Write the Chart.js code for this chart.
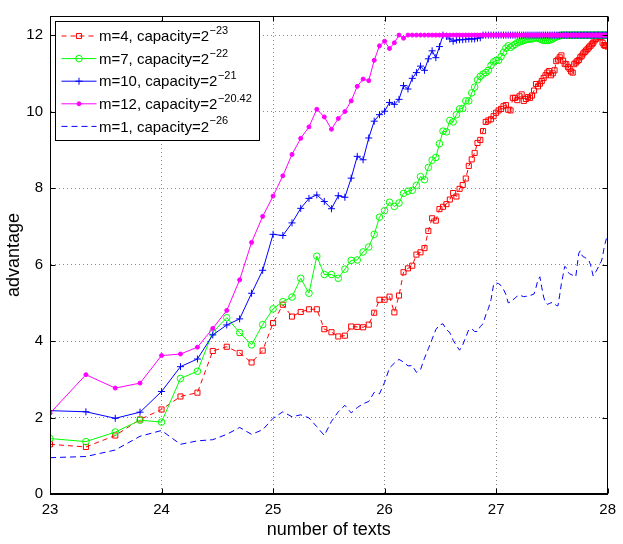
<!DOCTYPE html>
<html>
<head>
<meta charset="utf-8">
<style>
  html, body { margin: 0; padding: 0; background: #fff; }
  #wrap { width: 623px; height: 544px; }
</style>
</head>
<body>
<div id="wrap"><canvas id="grafico" width="623" height="544"></canvas></div>
<script src="https://cdn.jsdelivr.net/npm/chart.js"></script>
<script>
// number of texts, in units of 2^21 (x axis shows log2 of the count)
const numTexts = [
    4, 5, 6, 7, 8, 9, 10, 11, 12, 13,
    14, 15, 16, 17, 18, 19, 20, 21, 22, 23,
    24, 25, 26, 27, 28, 29, 30, 31, 32, 33,
    34, 35, 36, 37, 38, 39, 40, 41, 42, 43,
    44, 45, 46, 47, 48, 49, 50, 51, 52, 53,
    54, 55, 56, 57, 58, 59, 60, 61, 62, 63,
    64, 65, 66, 67, 68, 69, 70, 71, 72, 73,
    74, 75, 76, 77, 78, 79, 80, 81, 82, 83,
    84, 85, 86, 87, 88, 89, 90, 91, 92, 93,
    94, 95, 96, 97, 98, 99, 100, 101, 102, 103,
    104, 105, 106, 107, 108, 109, 110, 111, 112, 113,
    114, 115, 116, 117, 118, 119, 120, 121, 122, 123,
    124, 125, 126, 127, 128
];

// m=4, capacity=2^-23
const advM4 = [
    1.30, 1.23, 1.53, 1.95, 2.21, 2.55, 2.65, 3.74, 3.85, 3.69,
    3.44, 3.75, 4.47, 4.95, 4.64, 4.76, 4.83, 4.83, 4.31, 4.23,
    4.12, 4.14, 4.38, 4.37, 4.36, 4.43, 4.74, 5.08, 5.08, 5.16,
    4.75, 5.19, 5.80, 5.90, 5.97, 6.26, 6.32, 6.43, 6.88, 7.21,
    7.15, 7.45, 7.51, 7.58, 7.70, 7.87, 7.78, 7.98, 8.08, 8.25,
    8.58, 8.75, 8.92, 9.18, 9.26, 9.49, 9.73, 9.77, 9.80, 9.88,
    9.97, 10.03, 10.07, 10.14, 10.17, 10.05, 10.03, 10.36, 10.36, 10.30,
    10.40, 10.45, 10.28, 10.33, 10.38, 10.36, 10.42, 10.55, 10.72, 10.66,
    10.73, 10.80, 10.88, 10.95, 11.02, 11.06, 10.95, 11.00, 11.08, 11.32,
    11.36, 11.42, 11.47, 11.33, 11.25, 11.24, 11.17, 11.12, 11.05, 11.02,
    11.24, 11.28, 11.32, 11.35, 11.42, 11.46, 11.52, 11.56, 11.60, 11.64,
    11.68, 11.72, 11.76, 11.80, 11.86, 11.90, 11.94, 11.96, 11.97, 11.95,
    11.80, 11.74, 11.72, 11.74, 11.70
];

// m=7, capacity=2^-22
const advM7 = [
    1.45, 1.37, 1.62, 1.93, 1.88, 3.02, 3.21, 4.23, 4.61, 4.22,
    3.90, 4.43, 4.84, 5.03, 5.15, 5.64, 5.25, 6.22, 5.74, 5.74,
    5.64, 5.88, 6.11, 6.12, 6.33, 6.46, 6.79, 7.24, 7.41, 7.63,
    7.52, 7.61, 7.86, 7.92, 7.94, 8.07, 8.30, 8.22, 8.54, 8.73,
    8.80, 9.16, 9.49, 9.47, 9.77, 9.73, 9.92, 10.07, 10.08, 10.28,
    10.28, 10.49, 10.64, 10.83, 10.92, 10.98, 11.02, 11.08, 11.21, 11.30,
    11.34, 11.34, 11.44, 11.55, 11.66, 11.72, 11.68, 11.72, 11.76, 11.80,
    11.82, 11.84, 11.86, 11.88, 11.89, 11.90, 11.90, 11.92, 11.93, 11.92,
    11.90, 11.88, 11.86, 11.86, 11.86, 11.87, 11.88, 11.90, 11.93, 11.95,
    11.97, 11.98, 12, 12, 12, 12, 12, 12, 12, 12,
    12, 12, 12, 12, 12, 12, 12, 12, 12, 12,
    12, 12, 12, 12, 12, 12, 12, 12, 12, 12,
    12, 12, 12, 12, 12
];

// m=10, capacity=2^-21
const advM10 = [
    2.18, 2.15, 1.98, 2.14, 2.68, 3.33, 3.53, 4.16, 4.42, 4.58,
    5.25, 5.85, 6.79, 6.76, 7.09, 7.47, 7.73, 7.82, 7.65, 7.46,
    7.80, 7.76, 8.26, 8.83, 8.74, 9.31, 9.75, 9.92, 10.01, 10.24,
    10.19, 10.32, 10.68, 10.59, 10.87, 11.02, 11.19, 11.08, 11.38, 11.59,
    11.41, 11.70, 12.00, 11.97, 11.90, 11.84, 11.87, 11.88, 11.88, 11.89,
    11.90, 11.90, 11.90, 11.92, 11.93, 12, 12, 12, 12, 12,
    12, 12, 12, 12, 12, 12, 12, 12, 12, 12,
    12, 12, 12, 12, 12, 12, 12, 12, 12, 12,
    12, 12, 12, 12, 12, 12, 12, 12, 12, 12,
    12, 12, 12, 12, 12, 12, 12, 12, 12, 12,
    12, 12, 12, 12, 12, 12, 12, 12, 12, 12,
    12, 12, 12, 12, 12, 12, 12, 12, 12, 12,
    12, 12, 12, 12, 12
];

// m=12, capacity=2^-20.42
const advM12 = [
    2.11, 3.12, 2.77, 2.90, 3.62, 3.66, 3.84, 4.33, 4.80, 5.60,
    6.58, 7.26, 7.79, 8.32, 8.88, 9.30, 9.60, 10.06, 9.86, 9.54,
    9.82, 10.00, 10.28, 10.66, 10.85, 10.81, 11.34, 11.72, 11.84, 11.65,
    11.80, 12, 11.92, 12, 12, 12, 12, 12, 12, 12,
    12, 12, 12, 12, 12, 12, 12, 12, 12, 12,
    12, 12, 12, 12, 12, 12, 12, 12, 12, 12,
    12, 12, 12, 12, 12, 12, 12, 12, 12, 12,
    12, 12, 12, 12, 12, 12, 12, 12, 12, 12,
    12, 12, 12, 12, 12, 12, 12, 12, 12, 12,
    12, 12, 12, 12, 12, 12, 12, 12, 12, 12,
    12, 12, 12, 12, 12, 12, 12, 12, 12, 12,
    12, 12, 12, 12, 12, 12, 12, 12, 12, 12,
    12, 12, 12, 12, 12
];

// m=1, capacity=2^-26
const advM1 = [
    0.95, 0.98, 1.15, 1.51, 1.66, 1.30, 1.39, 1.42, 1.56, 1.74,
    1.56, 1.68, 1.98, 2.15, 2.02, 2.07, 1.99, 1.76, 1.53, 1.90,
    2.15, 2.32, 2.12, 2.26, 2.36, 2.42, 2.66, 2.62, 2.92, 3.30,
    3.42, 3.52, 3.45, 3.35, 3.36, 3.18, 3.25, 3.55, 3.80, 4.05,
    4.30, 4.42, 4.45, 4.30, 4.22, 4.02, 3.88, 3.76, 3.90, 4.10,
    4.30, 4.32, 4.25, 4.25, 4.38, 4.45, 4.68, 4.85, 5.08, 5.48,
    5.52, 5.50, 5.45, 5.35, 5.22, 5.00, 5.02, 5.08, 5.12, 5.18,
    5.21, 5.18, 5.16, 5.17, 5.17, 5.19, 5.21, 5.23, 5.40, 5.60,
    5.68, 5.40, 5.15, 5.00, 4.96, 4.98, 5.00, 5.01, 4.97, 4.93,
    4.92, 5.20, 5.50, 5.72, 5.95, 5.92, 5.80, 5.76, 5.74, 5.72,
    5.70, 5.68, 6.00, 6.30, 6.36, 6.25, 6.20, 6.19, 6.16, 6.12,
    6.10, 6.00, 5.85, 5.70, 5.75, 5.82, 5.88, 5.95, 6.02, 6.08,
    6.20, 6.40, 6.55, 6.68, 6.82
];

const xTicks = [23, 24, 25, 26, 27, 28];
const yTicks = [0, 2, 4, 6, 8, 10, 12];

// legend texts: base + exponent
const legendBase = ['m=4, capacity=2', 'm=7, capacity=2', 'm=10, capacity=2', 'm=12, capacity=2', 'm=1, capacity=2'];
const legendExp = ['\u221223', '\u221222', '\u221221', '\u221220.42', '\u221226'];

const FONT = '"Liberation Sans", Arial, Helvetica, sans-serif';

// Monta pontos {x, y} com x = log2(numero de textos)
function pontos(valores) {
    return numTexts.map((k, i) => ({ x: 21 + Math.log2(k), y: valores[i] }));
}

const estilos = [
    { cor: '#ff0000', dash: [5, 4], marcador: 'rect', raio: 3.6, preenchido: false, order: 5 },
    { cor: '#00ff00', dash: [], marcador: 'circle', raio: 3.3, preenchido: false, order: 4 },
    { cor: '#0000ff', dash: [], marcador: 'cross', raio: 3.5, preenchido: false, order: 3 },
    { cor: '#ff00ff', dash: [], marcador: 'circle', raio: 2, preenchido: true, order: 2 },
    { cor: '#0000ff', dash: [6, 4], marcador: false, raio: 0, preenchido: false, order: 1 },
];

const series = [advM4, advM7, advM10, advM12, advM1];

// Desenha um marcador simples (para a legenda)
function desenharMarcador(ctx, est, x, y) {
    if (!est.marcador) return;
    ctx.save();
    ctx.strokeStyle = est.cor;
    ctx.fillStyle = est.cor;
    ctx.lineWidth = 1;
    ctx.setLineDash([]);
    ctx.beginPath();
    if (est.marcador === 'rect') {
        const h = est.raio * Math.SQRT1_2;
        ctx.rect(x - h, y - h, 2 * h, 2 * h);
        ctx.stroke();
    } else if (est.marcador === 'circle') {
        ctx.arc(x, y, est.raio, 0, Math.PI * 2);
        if (est.preenchido) ctx.fill();
        ctx.stroke();
    } else if (est.marcador === 'cross') {
        ctx.moveTo(x - est.raio, y); ctx.lineTo(x + est.raio, y);
        ctx.moveTo(x, y - est.raio); ctx.lineTo(x, y + est.raio);
        ctx.stroke();
    }
    ctx.restore();
}

// Moldura, marcas internas dos eixos e legenda
const molduraPlugin = {
    id: 'moldura',
    afterDraw(chart) {
        const { ctx, chartArea: a, scales } = chart;
        ctx.save();
        ctx.strokeStyle = '#000';
        ctx.lineWidth = 1;
        ctx.setLineDash([]);
        const L = Math.round(a.left) + 0.5, R = Math.round(a.right) - 0.5;
        const T = Math.round(a.top) + 0.5, B = Math.round(a.bottom) - 0.5;
        ctx.strokeRect(L, T, R - L, B - T);

        const tl = 5;
        ctx.beginPath();
        xTicks.forEach(v => {
            const px = Math.round(scales.x.getPixelForValue(v)) + 0.5;
            ctx.moveTo(px, B); ctx.lineTo(px, B - tl);
            ctx.moveTo(px, T); ctx.lineTo(px, T + tl);
        });
        yTicks.forEach(v => {
            const py = Math.round(scales.y.getPixelForValue(v)) + 0.5;
            ctx.moveTo(L, py); ctx.lineTo(L + tl, py);
            ctx.moveTo(R, py); ctx.lineTo(R - tl, py);
        });
        ctx.stroke();

        // Legenda
        const bx = L + 5, by = T + 5, bw = 204, bh = 119;
        ctx.fillStyle = '#fff';
        ctx.fillRect(bx, by, bw, bh);
        ctx.strokeRect(bx, by, bw, bh);

        legendBase.forEach((txt, i) => {
            const est = estilos[i];
            const ry = by + 14.5 + i * 22.6;
            ctx.save();
            ctx.strokeStyle = est.cor;
            ctx.lineWidth = 1;
            ctx.setLineDash(est.dash);
            ctx.beginPath();
            ctx.moveTo(bx + 6, ry);
            ctx.lineTo(bx + 41, ry);
            ctx.stroke();
            ctx.restore();
            desenharMarcador(ctx, est, bx + 23.5, ry);

            ctx.fillStyle = '#000';
            ctx.textBaseline = 'middle';
            ctx.textAlign = 'left';
            ctx.font = '15px ' + FONT;
            ctx.fillText(txt, bx + 43.5, ry + 1);
            const w = ctx.measureText(txt).width;
            ctx.font = '11px ' + FONT;
            ctx.fillText(legendExp[i], bx + 43.5 + w + 0.5, ry - 5);
        });
        ctx.restore();
    }
};

function gerarGrafico() {
    const ctx = document.getElementById('grafico').getContext('2d');
    new Chart(ctx, {
        type: 'line',
        data: {
            datasets: series.map((valores, i) => {
                const est = estilos[i];
                return {
                    label: legendBase[i] + legendExp[i],
                    data: pontos(valores),
                    borderColor: est.cor,
                    borderWidth: 1,
                    borderDash: est.dash,
                    pointStyle: est.marcador,
                    pointRadius: est.raio,
                    pointBorderColor: est.cor,
                    pointBorderWidth: 1,
                    pointBackgroundColor: est.preenchido ? est.cor : 'rgba(0,0,0,0)',
                    tension: 0,
                    fill: false,
                    order: est.order,
                };
            }),
        },
        options: {
            responsive: false,
            animation: false,
            devicePixelRatio: 1,
            layout: { padding: { left: 0, right: 10, top: 3, bottom: 0 } },
            plugins: {
                legend: { display: false },
                tooltip: { enabled: false },
            },
            scales: {
                x: {
                    type: 'linear',
                    min: 23,
                    max: 28,
                    afterBuildTicks: s => { s.ticks = xTicks.map(v => ({ value: v })); },
                    afterFit: s => { s.height = 50; },
                    grid: { color: '#888', lineWidth: 1, drawTicks: false },
                    border: { display: true, color: '#000', dash: [1, 3] },
                    ticks: {
                        color: '#000',
                        padding: 7,
                        maxRotation: 0,
                        font: { family: FONT, size: 15 },
                    },
                    title: {
                        display: true,
                        text: 'number of texts',
                        color: '#000',
                        font: { family: FONT, size: 18 },
                        padding: { top: 0, bottom: 3 },
                    },
                },
                y: {
                    type: 'linear',
                    min: 0,
                    max: 12.5,
                    afterBuildTicks: s => { s.ticks = yTicks.map(v => ({ value: v })); },
                    afterFit: s => { s.width = 50; },
                    grid: { color: '#888', lineWidth: 1, drawTicks: false },
                    border: { display: true, color: '#000', dash: [1, 3] },
                    ticks: {
                        color: '#000',
                        padding: 7,
                        font: { family: FONT, size: 15 },
                    },
                    title: {
                        display: true,
                        text: 'advantage',
                        color: '#000',
                        font: { family: FONT, size: 18 },
                        padding: { top: 3, bottom: 0 },
                    },
                },
            },
        },
        plugins: [molduraPlugin],
    });
}

window.onload = gerarGrafico;
</script>
</body>
</html>
